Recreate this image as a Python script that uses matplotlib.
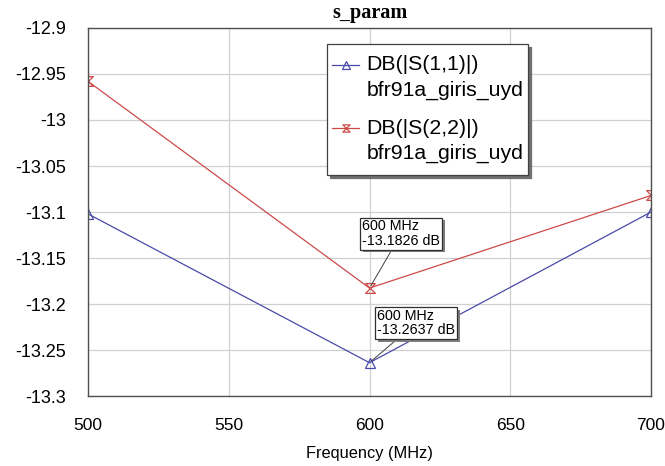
import numpy as np
import matplotlib
matplotlib.use('Agg')
import matplotlib.pyplot as plt
from matplotlib.path import Path
from matplotlib.legend_handler import HandlerLine2D
import matplotlib.patheffects as pe

plt.rcParams['font.family'] = ['Liberation Sans', 'DejaVu Sans']

freq = [500, 600, 700]
s11 = [-13.102, -13.2637, -13.100]
s22 = [-12.958, -13.1826, -13.082]
yticks = [-13.3, -13.25, -13.2, -13.15, -13.1, -13.05, -13.0, -12.95, -12.9]
ytick_labels = ['-13.3', '-13.25', '-13.2', '-13.15', '-13.1', '-13.05', '-13', '-12.95', '-12.9']
xticks = [500, 550, 600, 650, 700]

# hourglass marker for S(2,2)
hourglass = Path([(-1, 1), (1, 1), (-1, -1), (1, -1), (-1, 1)],
                 [Path.MOVETO, Path.LINETO, Path.LINETO, Path.LINETO, Path.CLOSEPOLY])

blue = '#4a4aa8'
red = '#cc4a4a'


# legend handle sits next to the first line of a two-line label
class TopHandler(HandlerLine2D):
    def create_artists(self, legend, orig_handle, xdescent, ydescent, width, height, fontsize, trans):
        arts = super().create_artists(legend, orig_handle, xdescent, ydescent, width, height, fontsize, trans)
        for a in arts:
            a.set_ydata(np.asarray(a.get_ydata()) + 0.62 * fontsize)
        return arts


# legend frame with more padding top/bottom than left/right
def tall_box(x0, y0, width, height, mutation_size):
    dv = 0.29 * mutation_size
    y0 -= dv
    height += 2 * dv
    return Path([(x0, y0), (x0 + width, y0), (x0 + width, y0 + height), (x0, y0 + height), (x0, y0)],
                closed=True)


fig = plt.figure(figsize=(6.65, 4.66), dpi=100)
ax = fig.add_axes([0.1323, 0.150, 0.8467, 0.790])

l1, = ax.plot(freq, s11, color=blue, lw=0.9, marker='^', ms=7, mfc='none', mew=0.9,
              label='DB(|S(1,1)|)\nbfr91a_giris_uyd')
l2, = ax.plot(freq, s22, color=red, lw=0.9, marker=hourglass, ms=7, mfc='none', mew=0.9,
              label='DB(|S(2,2)|)\nbfr91a_giris_uyd')

ax.set_xlim(500, 700)
ax.set_ylim(-13.3, -12.9)
ax.set_xticks(xticks)
ax.set_yticks(yticks)
ax.set_yticklabels(ytick_labels)
ax.tick_params(axis='y', length=0, labelsize=13, pad=16)
ax.tick_params(axis='x', length=0, labelsize=12.5, pad=16)
ax.grid(True, color='#d0d0d0', lw=0.9)
for s in ax.spines.values():
    s.set_color('#505050')
    s.set_linewidth(1.0)

ax.set_xlabel('Frequency (MHz)', fontsize=11.8, labelpad=9)
ax.set_title('s_param', fontsize=14.5, fontweight='bold', family='Liberation Serif', pad=7)

leg = ax.legend(handler_map={l1: TopHandler(), l2: TopHandler()},
                loc='upper left', bbox_to_anchor=(0.4245, 0.9397), borderaxespad=0,
                fontsize=15.3, fancybox=False, shadow={'color': '#707070', 'alpha': 1.0},
                edgecolor='#404040', framealpha=1, handlelength=1.27, markerscale=0.75,
                labelspacing=0.89, borderpad=0.25, handletextpad=0.33)
leg.get_frame().set_linewidth(0.9)
leg.get_frame().set_boxstyle(tall_box)
for t in leg.get_texts():
    t.set_linespacing(1.42)

box = dict(boxstyle='square,pad=0.12', fc='white', ec='#303030', lw=0.9,
           path_effects=[pe.withSimplePatchShadow(offset=(2, -2), shadow_rgbFace='#808080', alpha=1)])
ax.annotate('600 MHz\n%.4f dB' % s22[1], xy=(freq[1], s22[1]), xytext=(597.4, -13.108),
            fontsize=10.3, ha='left', va='top', bbox=box, linespacing=1.05,
            arrowprops=dict(arrowstyle='-', color='#404040', lw=0.7, shrinkA=0, shrinkB=2))
ax.annotate('600 MHz\n%.4f dB' % s11[1], xy=(freq[1], s11[1]), xytext=(602.7, -13.205),
            fontsize=10.3, ha='left', va='top', bbox=box, linespacing=1.05,
            arrowprops=dict(arrowstyle='-', color='#404040', lw=0.7, shrinkA=0, shrinkB=2))

fig.savefig('out.png', dpi=100)
